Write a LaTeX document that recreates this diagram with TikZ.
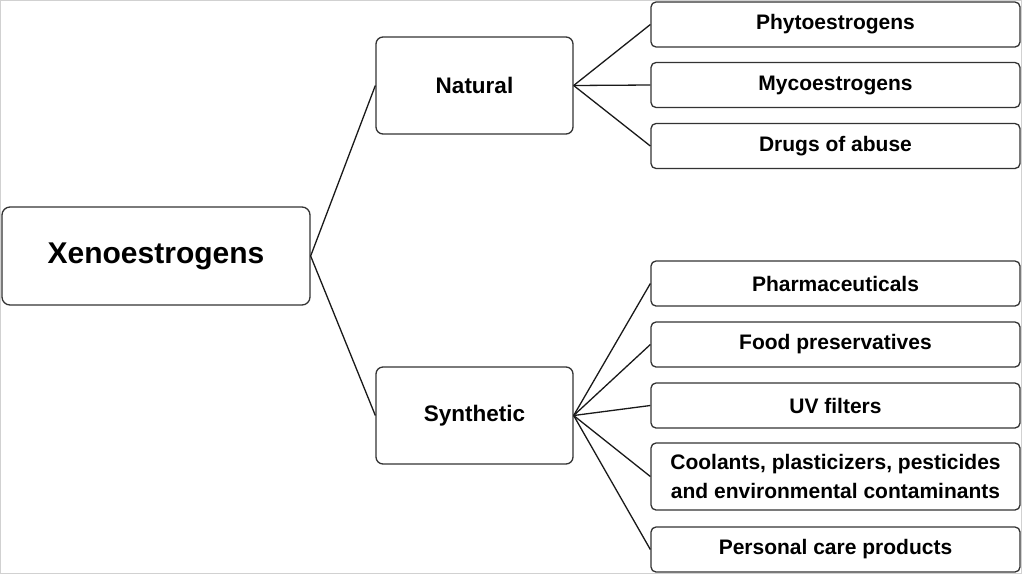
\documentclass[tikz,border=0pt]{standalone}
\usepackage{fontspec}
\setmainfont{Liberation Sans}
\begin{document}
\begin{tikzpicture}[x=1pt,y=-1pt,
  box/.style={draw=black!80,line width=1.3pt,rounded corners=5pt,fill=white,inner sep=0pt,align=center,
    font=\fontsize{21}{29}\selectfont\bfseries},
  leaf/.style={box,minimum width=369pt,minimum height=45pt},
  mid/.style={box,rounded corners=7pt,minimum width=197pt,minimum height=97pt,font=\fontsize{22.5}{26}\selectfont\bfseries},
  conn/.style={draw=black!90,line width=1.3pt}]
\useasboundingbox (0,0) rectangle (1022,574);
\draw[black!18,line width=1pt] (0.5,0.5) rectangle (1021.5,573.5);
\node[box,rounded corners=8pt,minimum width=308pt,minimum height=98pt,font=\fontsize{30}{34}\selectfont\bfseries] (x) at (156,256) {Xenoestrogens};
\node[mid] (nat) at (474.5,85.5) {Natural};
\node[mid] (syn) at (474.5,415.5) {Synthetic};
\node[leaf] (p1) at (835.5,24.5) {Phytoestrogens};
\node[leaf] (p2) at (835.5,85) {Mycoestrogens};
\node[leaf] (p3) at (835.5,146) {Drugs of abuse};
\node[leaf] (s1) at (835.5,283.5) {Pharmaceuticals};
\node[leaf] (s2) at (835.5,344.5) {Food preservatives};
\node[leaf] (s3) at (835.5,405.5) {UV filters};
\node[leaf,minimum height=67pt] (s4) at (835.5,476.5) {Coolants, plasticizers, pesticides\\and environmental contaminants};
\node[leaf] (s5) at (835.5,549.5) {Personal care products};
\draw[conn] (nat.west) -- (x.east) -- (syn.west);
\foreach \t in {p1,p2,p3} \draw[conn] (nat.east) -- (\t.west);
\foreach \t in {s1,s2,s3,s4,s5} \draw[conn] (syn.east) -- (\t.west);
\end{tikzpicture}
\end{document}
